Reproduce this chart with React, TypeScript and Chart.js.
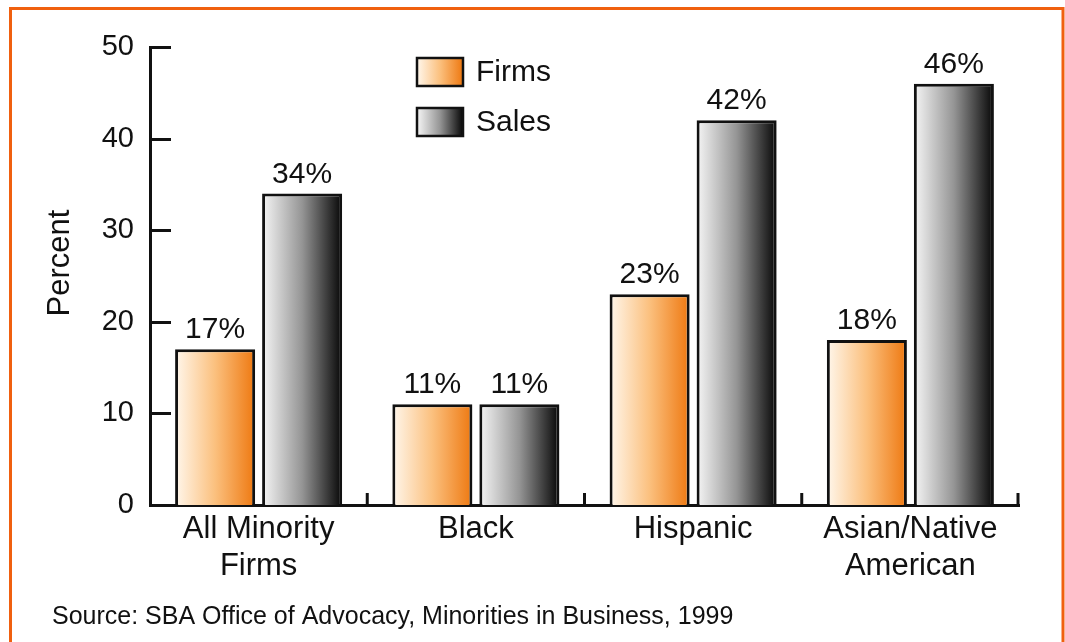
import React, { useEffect, useRef } from 'react';
import { Chart, registerables } from 'chart.js';

Chart.register(...registerables);

const categories: string[][] = [['All Minority', 'Firms'], ['Black'], ['Hispanic'], ['Asian/Native', 'American']];
const firmsValues = [17, 11, 23, 18];
const salesValues = [34, 11, 42, 46];
const seriesNames = ['Firms', 'Sales'];
const yTickValues = [0, 10, 20, 30, 40, 50];
const yTitle = 'Percent';
const sourceNote = 'Source: SBA Office of Advocacy, Minorities in Business, 1999';

const FONT = '"Liberation Sans", Arial, Helvetica, sans-serif';
const gradients: string[][] = [
  ['#fff7ec', '#fbc07e', '#ee7810'],
  ['#f6f6f6', '#959595', '#060606'],
];

function makeGradient(ctx: CanvasRenderingContext2D, x0: number, x1: number, stops: string[]) {
  const g = ctx.createLinearGradient(x0, 0, x1, 0);
  stops.forEach((c, i) => g.addColorStop(i / (stops.length - 1), c));
  return g;
}

const decorPlugin = {
  id: 'decor',
  beforeDatasetsDraw(chart: any) {
    const ctx = chart.ctx;
    chart.data.datasets.forEach((_ds: any, di: number) => {
      const meta = chart.getDatasetMeta(di);
      meta.data.forEach((el: any) => {
        const { x, width } = el.getProps(['x', 'width'], true);
        const g = makeGradient(ctx, x - width / 2, x + width / 2, gradients[di]);
        el.options = Object.assign({}, el.options, { backgroundColor: g });
      });
    });
  },
  afterDatasetsDraw(chart: any) {
    const ctx = chart.ctx;
    ctx.save();
    ctx.fillStyle = '#111';
    ctx.font = `30px ${FONT}`;
    ctx.textAlign = 'center';
    ctx.textBaseline = 'alphabetic';
    chart.data.datasets.forEach((ds: any, di: number) => {
      const meta = chart.getDatasetMeta(di);
      meta.data.forEach((el: any, i: number) => {
        const { x, y } = el.getProps(['x', 'y'], true);
        ctx.fillText(`${ds.data[i]}%`, x, y - 11);
      });
    });
    ctx.restore();
  },
  afterDraw(chart: any) {
    const ctx = chart.ctx;
    const { left, right, bottom } = chart.chartArea;
    const ys = chart.scales.y;
    ctx.save();
    ctx.strokeStyle = '#111';
    ctx.lineWidth = 3;
    // inward y tick marks
    yTickValues.forEach((v) => {
      const py = Math.round(ys.getPixelForValue(v)) + 0.5;
      if (v === 0) return;
      ctx.beginPath();
      ctx.moveTo(left - 1, py);
      ctx.lineTo(left + 21, py);
      ctx.stroke();
    });
    // category boundary ticks
    const n = categories.length;
    const cw = (right - left) / n;
    for (let i = 1; i <= n; i++) {
      const px = left + cw * i - (i === n ? 1 : 0);
      ctx.beginPath();
      ctx.moveTo(px, bottom);
      ctx.lineTo(px, bottom - 12);
      ctx.stroke();
    }
    // y title
    ctx.save();
    ctx.translate(60, 263);
    ctx.rotate(-Math.PI / 2);
    ctx.font = `31px ${FONT}`;
    ctx.fillStyle = '#111';
    ctx.textAlign = 'center';
    ctx.textBaseline = 'middle';
    ctx.fillText(yTitle, 0, 0);
    ctx.restore();
    // legend
    ctx.font = `30px ${FONT}`;
    ctx.textBaseline = 'middle';
    ctx.textAlign = 'left';
    const lx = 417;
    const lys = [58, 108];
    chart.data.datasets.forEach((ds: any, di: number) => {
      const y0 = lys[di];
      ctx.fillStyle = makeGradient(ctx, lx, lx + 46, gradients[di]);
      ctx.fillRect(lx, y0, 46, 28);
      ctx.lineWidth = 2.5;
      ctx.strokeStyle = '#111';
      ctx.strokeRect(lx, y0, 46, 28);
      ctx.fillStyle = '#111';
      ctx.fillText(ds.label, 476, y0 + 15);
    });
    // source note
    ctx.font = `25px ${FONT}`;
    ctx.textBaseline = 'alphabetic';
    ctx.fillStyle = '#111';
    ctx.fillText(sourceNote, 52, 624);
    // orange frame
    ctx.strokeStyle = '#f0600f';
    ctx.lineWidth = 3;
    ctx.beginPath();
    ctx.moveTo(10.5, 660);
    ctx.lineTo(10.5, 8.5);
    ctx.lineTo(1063, 8.5);
    ctx.lineTo(1063, 660);
    ctx.stroke();
    ctx.restore();
  },
};

export default function App() {
  const ref = useRef<HTMLCanvasElement | null>(null);
  useEffect(() => {
    if (!ref.current) return;
    const chart = new Chart(ref.current, {
      type: 'bar',
      data: {
        labels: categories as any,
        datasets: [
          {
            label: seriesNames[0],
            data: firmsValues,
            backgroundColor: '#f5a050',
            borderColor: '#111',
            borderWidth: 3,
            borderSkipped: 'bottom',
            categoryPercentage: 0.801,
            barPercentage: 0.92,
          },
          {
            label: seriesNames[1],
            data: salesValues,
            backgroundColor: '#888',
            borderColor: '#111',
            borderWidth: 3,
            borderSkipped: 'bottom',
            categoryPercentage: 0.801,
            barPercentage: 0.92,
          },
        ],
      },
      options: {
        responsive: false,
        animation: false,
        devicePixelRatio: 1,
        layout: { padding: { top: 47, right: 46, left: 0, bottom: 0 } },
        plugins: {
          legend: { display: false },
          tooltip: { enabled: false },
        },
        scales: {
          x: {
            grid: { display: false },
            border: { display: true, width: 3, color: '#111' },
            ticks: {
              color: '#111',
              font: { family: FONT, size: 31, lineHeight: 1.19 },
              padding: -2,
              maxRotation: 0,
              autoSkip: false,
            },
            afterFit: (s: any) => {
              s.height = 137;
            },
          },
          y: {
            min: 0,
            max: 50,
            grid: { display: false },
            border: { display: true, width: 3, color: '#111' },
            afterBuildTicks: (s: any) => {
              s.ticks = yTickValues.map((v) => ({ value: v }));
            },
            ticks: {
              color: '#111',
              font: { family: FONT, size: 29 },
              padding: 8,
            },
            title: { display: false },
            afterFit: (s: any) => {
              s.width = 150;
            },
          },
        },
      },
      plugins: [decorPlugin],
    });
    return () => chart.destroy();
  }, []);
  return (
    <div style={{ position: 'fixed', left: 0, top: 0, width: 1065, height: 642, background: '#fff' }}>
      <canvas ref={ref} width={1065} height={642} style={{ display: 'block' }} />
    </div>
  );
}
